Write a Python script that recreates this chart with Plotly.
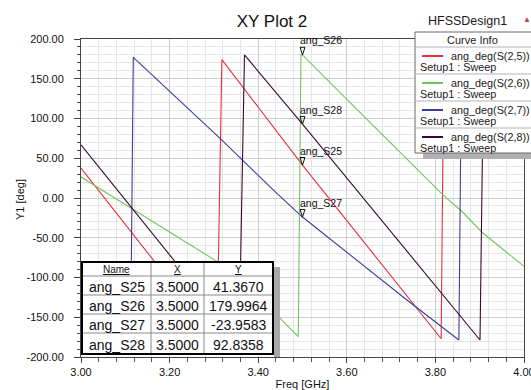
import plotly.graph_objects as go

# ---------------- data ----------------
freq_s25 = [3.000, 3.307, 3.318, 3.500, 3.813, 3.819, 4.000]
ang_s25 = [37.7, -180.0, 174.0, 41.367, -177.0, 179.0, 51.0]

freq_s26 = [3.000, 3.309, 3.449, 3.4905, 3.4965, 3.500, 3.600, 3.713, 3.817, 3.860, 3.907, 4.000]
ang_s26 = [26.4, -80.5, -151.0, -174.5, 180.5, 179.9964, 124.0, 62.0, 4.0, -17.0, -44.0, -86.0]

freq_s27 = [3.000, 3.112, 3.118, 3.3175, 3.438, 3.500, 3.735, 3.853, 3.859, 4.000]
ang_s27 = [-122.0, -180.0, 177.0, 73.0, 8.0, -23.9583, -128.0, -178.6, 180.0, 118.0]

freq_s28 = [3.000, 3.212, 3.357, 3.369, 3.500, 3.9007, 3.909, 4.000]
ang_s28 = [66.7, -80.0, -180.0, 180.0, 92.8358, -178.6, 180.0, 118.0]

series_names = ["ang_deg(S(2,5))", "ang_deg(S(2,6))", "ang_deg(S(2,7))", "ang_deg(S(2,8))"]
series_sub = ["Setup1 : Sweep"] * 4
series_colors = ["#e4303c", "#72c45e", "#3a3f9a", "#3a0a30"]

marker_names = ["ang_S25", "ang_S26", "ang_S27", "ang_S28"]
marker_freq = [3.5, 3.5, 3.5, 3.5]
marker_vals = [41.3670, 179.9964, -23.9583, 92.8358]
table_header = ["Name", "X", "Y"]
table_x_text = ["3.5000", "3.5000", "3.5000", "3.5000"]
table_y_text = ["41.3670", "179.9964", "-23.9583", "92.8358"]

x_tick_vals = [3.0, 3.2, 3.4, 3.6, 3.8, 4.0]
x_tick_text = ["3.00", "3.20", "3.40", "3.60", "3.80", "4.00"]
y_tick_vals = [200, 150, 100, 50, 0, -50, -100, -150, -200]
y_tick_text = ["200.00", "150.00", "100.00", "50.00", "0.00", "-50.00", "-100.00", "-150.00", "-200.00"]

# ---------------- layout helpers ----------------
W, H = 531, 390
ML, MR, MT, MB = 81, 7, 39, 33
PW, PH = W - ML - MR, H - MT - MB
FONT = "Liberation Sans, Arial, sans-serif"


def px(x):
    return (x - ML) / PW


def py(y):
    return (H - MB - y) / PH


fig = go.Figure()

all_x = [freq_s25, freq_s26, freq_s27, freq_s28]
all_y = [ang_s25, ang_s26, ang_s27, ang_s28]
for xs, ys, col, nm in zip(all_x, all_y, series_colors, series_names):
    fig.add_trace(go.Scatter(x=xs, y=ys, mode="lines", name=nm,
                             line=dict(color=col, width=1.1),
                             showlegend=False, hoverinfo="skip"))

fig.add_trace(go.Scatter(x=marker_freq, y=marker_vals, mode="markers",
                         marker=dict(symbol="arrow-open", angle=180, size=8,
                                     color="#111111", line=dict(width=1, color="#111111")),
                         showlegend=False, hoverinfo="skip"))

for nm, xv, yv in zip(marker_names, marker_freq, marker_vals):
    fig.add_annotation(x=xv, y=yv, text=nm, showarrow=False, xanchor="left",
                       yanchor="middle", xshift=-5, yshift=14.5,
                       font=dict(family=FONT, size=10.5, color="#111111"))

shapes = []

# ---------------- marker table ----------------
TX = [82, 151, 204, 273]          # column boundaries (px)
TY = [262, 276, 295, 314, 333, 354]  # row boundaries (px)
shapes.append(dict(type="rect", xref="paper", yref="paper", x0=px(TX[-1] + 1), x1=px(TX[-1] + 7),
                   y0=py(357), y1=py(TY[0] + 5), fillcolor="#a8a8a8", line=dict(width=0), layer="above"))
shapes.append(dict(type="rect", xref="paper", yref="paper", x0=px(TX[0]), x1=px(TX[-1]),
                   y0=py(TY[-1]), y1=py(TY[0]), fillcolor="white", line=dict(width=0), layer="above"))
for xb in TX[1:-1]:
    shapes.append(dict(type="line", xref="paper", yref="paper", x0=px(xb), x1=px(xb),
                       y0=py(TY[-1]), y1=py(TY[0]), line=dict(color="#8a8a8a", width=1), layer="above"))
for yb in TY[1:-1]:
    shapes.append(dict(type="line", xref="paper", yref="paper", x0=px(TX[0]), x1=px(TX[-1]),
                       y0=py(yb), y1=py(yb), line=dict(color="#8a8a8a", width=1), layer="above"))
shapes.append(dict(type="rect", xref="paper", yref="paper", x0=px(TX[0]), x1=px(TX[-1]),
                   y0=py(TY[-1]), y1=py(TY[0]), line=dict(color="#000000", width=2), layer="above"))

col_centers = [(TX[i] + TX[i + 1]) / 2 for i in range(3)]
for hdr, cx in zip(table_header, col_centers):
    fig.add_annotation(xref="paper", yref="paper", x=px(cx), y=py((TY[0] + TY[1]) / 2 + 0.5),
                       text="<u>" + hdr + "</u>", showarrow=False, xanchor="center",
                       yanchor="middle", borderpad=0,
                       font=dict(family=FONT, size=10, color="#111111"))
columns = [marker_names, table_x_text, table_y_text]
for ci, (vals, cx) in enumerate(zip(columns, col_centers)):
    for ri, v in enumerate(vals):
        cy = (TY[ri + 1] + TY[ri + 2]) / 2 + 1
        fig.add_annotation(xref="paper", yref="paper", x=px(cx), y=py(cy), text=v,
                           showarrow=False, xanchor="center", yanchor="middle", borderpad=0,
                           font=dict(family=FONT, size=14, color="#111111"))

# ---------------- curve info box ----------------
LX0, LX1, LY0, LY1 = 415, 560, 32, 153
shapes.append(dict(type="rect", xref="paper", yref="paper", x0=px(423), x1=px(560),
                   y0=py(159), y1=py(LY1), fillcolor="#b0b0b0", line=dict(width=0), layer="above"))
shapes.append(dict(type="rect", xref="paper", yref="paper", x0=px(LX0), x1=px(LX1),
                   y0=py(LY1), y1=py(LY0), fillcolor="white",
                   line=dict(color="#6a6a6a", width=1), layer="above"))
for sep in [47, 74, 101, 128]:
    shapes.append(dict(type="line", xref="paper", yref="paper", x0=px(LX0), x1=px(LX1),
                       y0=py(sep), y1=py(sep), line=dict(color="#b4b4b4", width=1), layer="above"))

entry_line_y = [56, 83, 110, 137]
entry_sub_y = [67, 94, 121, 148]
for col, nm, sub, ly, sy in zip(series_colors, series_names, series_sub, entry_line_y, entry_sub_y):
    shapes.append(dict(type="line", xref="paper", yref="paper", x0=px(422), x1=px(443),
                       y0=py(ly), y1=py(ly), line=dict(color=col, width=2), layer="above"))
    fig.add_annotation(xref="paper", yref="paper", x=px(450), y=py(ly - 0.5), text=nm,
                       showarrow=False, xanchor="left", yanchor="middle", borderpad=0,
                       font=dict(family=FONT, size=10.8, color="#1a1a1a"))
    fig.add_annotation(xref="paper", yref="paper", x=px(419), y=py(sy), text=sub,
                       showarrow=False, xanchor="left", yanchor="middle", borderpad=0,
                       font=dict(family=FONT, size=10.8, color="#1a1a1a"))

fig.add_annotation(xref="paper", yref="paper", x=px(472), y=py(40), text="Curve Info",
                   showarrow=False, xanchor="center", yanchor="middle",
                   font=dict(family=FONT, size=11, color="#1a1a1a"))
fig.add_annotation(xref="paper", yref="paper", x=px(467), y=py(21), text="HFSSDesign1",
                   showarrow=False, xanchor="center", yanchor="middle",
                   font=dict(family=FONT, size=12.5, color="#1a1a1a"))
fig.add_annotation(xref="paper", yref="paper", x=px(527), y=py(20), text="▲",
                   showarrow=False, xanchor="center", yanchor="middle",
                   font=dict(family=FONT, size=8, color="#c84040"))
# y-axis title
fig.add_annotation(xref="paper", yref="paper", x=px(20), y=py(200), text="Y1 [deg]",
                   textangle=-90, showarrow=False, xanchor="center", yanchor="middle",
                   font=dict(family=FONT, size=11, color="#111111"))

fig.update_layout(
    width=W, height=H,
    margin=dict(l=ML, r=MR, t=MT, b=MB, autoexpand=False),
    paper_bgcolor="white", plot_bgcolor="white",
    font=dict(family=FONT, size=11, color="#111111"),
    title=dict(text="XY Plot 2", x=272 / W, xref="container", xanchor="center",
               y=1 - 21 / H, yref="container", yanchor="middle",
               font=dict(family=FONT, size=17, color="#111111")),
    shapes=shapes,
    showlegend=False,
)

fig.update_xaxes(range=[3.0, 4.0], tickvals=x_tick_vals, ticktext=x_tick_text,
                 ticks="outside", ticklen=5, tickcolor="#444444",
                 ticklabeloverflow="allow",
                 showline=True, linecolor="#444444", linewidth=1, mirror=True,
                 showgrid=True, gridcolor="#cdcdcd", zeroline=False,
                 minor=dict(dtick=0.04, tick0=3.0, ticks="outside", ticklen=4,
                            tickcolor="#555555", showgrid=True, gridcolor="#e6e6e6"),
                 tickfont=dict(family=FONT, size=11, color="#111111"),
                 title=dict(text="Freq [GHz]", standoff=4,
                            font=dict(family=FONT, size=11, color="#111111")))
fig.update_yaxes(range=[-200, 200], tickvals=y_tick_vals, ticktext=y_tick_text,
                 ticks="outside", ticklen=6, tickcolor="#444444",
                 showline=True, linecolor="#444444", linewidth=1, mirror=True,
                 showgrid=True, gridcolor="#cdcdcd", zeroline=False,
                 ticklabelstandoff=8,
                 minor=dict(dtick=10, tick0=0, ticks="outside", ticklen=3,
                            tickcolor="#555555", showgrid=True, gridcolor="#e6e6e6"),
                 tickfont=dict(family=FONT, size=11, color="#111111"))

fig.write_html("out.html")
